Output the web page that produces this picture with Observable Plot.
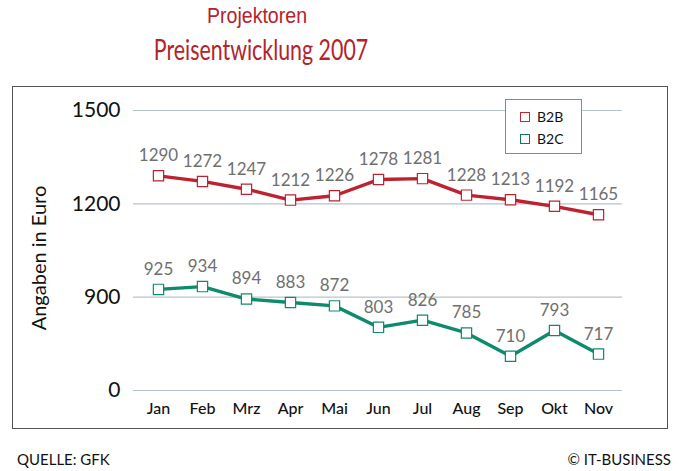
<!DOCTYPE html>
<html>
<head>
<meta charset="utf-8">
<script src="https://cdn.jsdelivr.net/npm/d3@7"></script>
<script src="https://cdn.jsdelivr.net/npm/@observablehq/plot@0.6"></script>
<style>
  html, body { margin: 0; padding: 0; background: #fff; }
  body { width: 683px; height: 471px; position: relative; overflow: hidden; font-family: Lato, "Open Sans", sans-serif; }
  .abs { position: absolute; }
  #t1 { left: 257px; top: 3px; transform: translateX(-50%) scaleX(0.89); white-space: nowrap; font-family: "Liberation Sans", Arial, sans-serif; font-size: 22px; color: #b3232a; }
  #t2 { left: 261px; top: 32px; transform: translateX(-50%) scaleX(0.75); white-space: nowrap; font-family: Lato, sans-serif; font-size: 28.5px; color: #b3232a; }
  #frame { left: 12px; top: 86px; width: 656px; height: 343px; border: 1.5px solid #555; box-sizing: border-box; }
  #chart { left: 0; top: 86px; }
  #ylab { left: 38px; top: 258px; transform: translate(-50%, -50%) rotate(-90deg); font-size: 20px; color: #111; white-space: nowrap; }
  #legend { left: 505px; top: 99px; width: 77px; height: 55px; border: 1px solid #888; background: #fff; box-sizing: border-box; font-size: 14px; color: #111; }
  .li { position: absolute; left: 14px; display: flex; align-items: center; gap: 7px; }
  .sq { width: 8px; height: 8px; border: 1.5px solid; background: #fff; }
  #src { left: 17px; top: 450px; font-size: 15px; color: #111; }
  #copy { right: 12px; top: 450px; font-size: 15px; color: #111; }
</style>
</head>
<body>
<div id="t1" class="abs">Projektoren</div>
<div id="t2" class="abs">Preisentwicklung 2007</div>
<div id="frame" class="abs"></div>
<div id="chart" class="abs"></div>
<div id="ylab" class="abs">Angaben in Euro</div>
<div id="legend" class="abs">
  <div class="li" style="top:8px"><span class="sq" style="border-color:#c0282f"></span><span>B2B</span></div>
  <div class="li" style="top:30px"><span class="sq" style="border-color:#0c7a56"></span><span>B2C</span></div>
</div>
<div id="src" class="abs">QUELLE: GFK</div>
<div id="copy" class="abs">© IT-BUSINESS</div>
<script>
const months = ["Jan","Feb","Mrz","Apr","Mai","Jun","Jul","Aug","Sep","Okt","Nov"];
const b2b = [1290,1272,1247,1212,1226,1278,1281,1228,1213,1192,1165];
const b2c = [925,934,894,883,872,803,826,785,710,793,717];
const yTicks = [600,900,1200,1500];
const yTickLabels = ["0","900","1200","1500"];
const seriesNames = ["B2B","B2C"];
const colors = ["#bd2230","#0e8a6c"];

const data = [];
[b2b, b2c].forEach((vals, si) => {
  vals.forEach((v, i) => data.push({month: months[i], value: v, series: seriesNames[si]}));
});

const chart = Plot.plot({
  width: 683,
  height: 344,
  marginLeft: 133,
  marginRight: 61,
  marginTop: 24,
  marginBottom: 40,
  style: {fontFamily: "Lato, sans-serif", background: "transparent"},
  x: {type: "point", domain: months, padding: 0.5, label: null},
  y: {domain: [600, 1500], label: null},
  color: {domain: seriesNames, range: colors},
  marks: [
    Plot.ruleY(yTicks, {stroke: "#b7c3ca", strokeWidth: 1.2}),
    Plot.axisY({ticks: yTicks, tickFormat: d => yTickLabels[yTicks.indexOf(d)], tickSize: 0, tickPadding: 13, fontSize: 21, label: null, color: "#111"}),
    Plot.axisX({tickSize: 0, tickPadding: 12, fontSize: 16, fontWeight: 500, label: null, color: "#111"}),
    Plot.line(data, {x: "month", y: "value", z: "series", stroke: "series", strokeWidth: 3.4}),
    Plot.dot(data, {x: "month", y: "value", symbol: "square", r: 5.8, fill: "white", stroke: "series", strokeWidth: 1.2}),
    Plot.text(data, {x: "month", y: "value", text: d => String(d.value), dy: -20, fill: "#6f6f6f", fontSize: 17})
  ]
});
document.getElementById("chart").appendChild(chart);
</script>
</body>
</html>
